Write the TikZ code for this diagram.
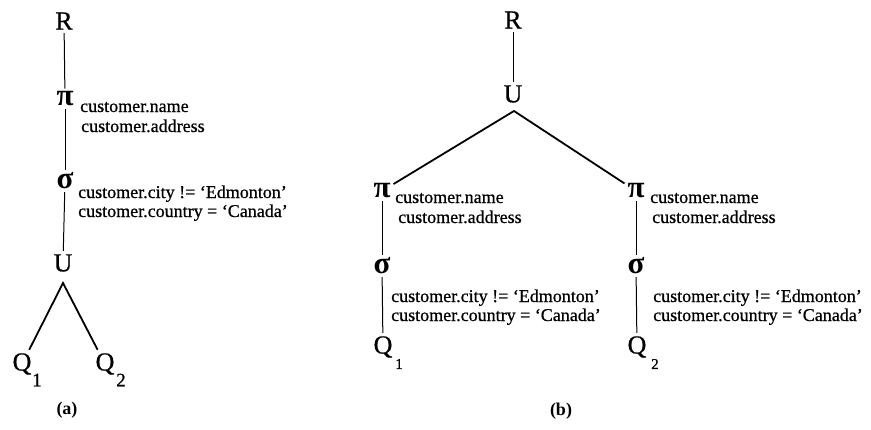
\documentclass[tikz,border=0pt]{standalone}
\usepackage{fontspec}
\setmainfont{Liberation Serif}
\newfontfamily\heavyserif{Liberation Serif}[Ligatures=TeX,FakeBold=0.7]
\begin{document}
\begin{tikzpicture}[x=1pt,y=-1pt,
  op/.style={inner sep=0pt,outer sep=3.5pt,font=\heavyserif\fontsize{26}{26}\selectfont},
  gop/.style={inner sep=0pt,outer sep=3pt,font=\bfseries\fontsize{31}{31}\selectfont},
  cond/.style={inner sep=0pt,anchor=base west,font=\heavyserif\fontsize{18}{20}\selectfont},
  subA/.style={inner sep=0pt,font=\heavyserif\fontsize{19}{19}\selectfont},
  subB/.style={inner sep=0pt,font=\heavyserif\fontsize{15}{15}\selectfont},
  caption/.style={inner sep=0pt,font=\fontsize{18}{18}\selectfont\bfseries},
  vline/.style={line width=1pt},
  dline/.style={line width=1.8pt,line join=miter}]
\useasboundingbox (0,0) rectangle (871,429);

% ---------- (a): union below the selection and projection ----------
\node[op] (Ra)  at (64,21)  {R};
\node[gop] (pia) at (65,99)  {π};
\node[cond] (na1) at (80,112) {customer.name};
\node[cond] (na2) at (81,132) {customer.address};
\node[gop] (sia) at (65,181) {σ};
\node[cond] (ca1) at (78,198) {customer.city != ‘Edmonton’};
\node[cond] (ca2) at (78,217) {customer.country = ‘Canada’};
\node[op] (Ua)  at (63,263) {U};
\coordinate (Uajoin) at (63,283);
\node[op] (Q1a) at (22,364) {Q};
\node[subA] (s1a) at (37,380) {1};
\node[op] (Q2a) at (105,364) {Q};
\node[subA] (s2a) at (121,380) {2};
\node[caption] (capa) at (67,410) {(a)};

\draw[vline] (Ra) -- (pia);
\draw[vline] (pia) -- (sia);
\draw[vline] (sia) -- (Ua);
\draw[dline] (Q1a) -- (Uajoin) -- (Q2a);

% ---------- (b): selection and projection pushed below the union ----------
\node[op] (Rb) at (513,20) {R};
\node[op] (Ub) at (513,94) {U};
\coordinate (Ubjoin) at (514,111);

\node[gop] (pib1) at (382,191) {π};
\node[cond] (nb1a) at (395,203) {customer.name};
\node[cond] (nb1b) at (398,223) {customer.address};
\node[gop] (sib1) at (382,266) {σ};
\node[cond] (cb1a) at (391,302) {customer.city != ‘Edmonton’};
\node[cond] (cb1b) at (391,321) {customer.country = ‘Canada’};
\node[op] (Q1b) at (383,347) {Q};
\node[subB] (s1b) at (399,364) {1};

\node[gop] (pib2) at (636,191) {π};
\node[cond] (nb2a) at (650,203) {customer.name};
\node[cond] (nb2b) at (652,223) {customer.address};
\node[gop] (sib2) at (636,266) {σ};
\node[cond] (cb2a) at (653,302) {customer.city != ‘Edmonton’};
\node[cond] (cb2b) at (653,321) {customer.country = ‘Canada’};
\node[op] (Q2b) at (637,347) {Q};
\node[subB] (s2b) at (655,364) {2};

\node[caption] (capb) at (561,411) {(b)};

\draw[vline] (Rb) -- (Ub);
\draw[dline] (pib1) -- (Ubjoin) -- (pib2);
\draw[vline] (pib1) -- (sib1);
\draw[vline] (sib1) -- (Q1b);
\draw[vline] (pib2) -- (sib2);
\draw[vline] (sib2) -- (Q2b);
\end{tikzpicture}
\end{document}
